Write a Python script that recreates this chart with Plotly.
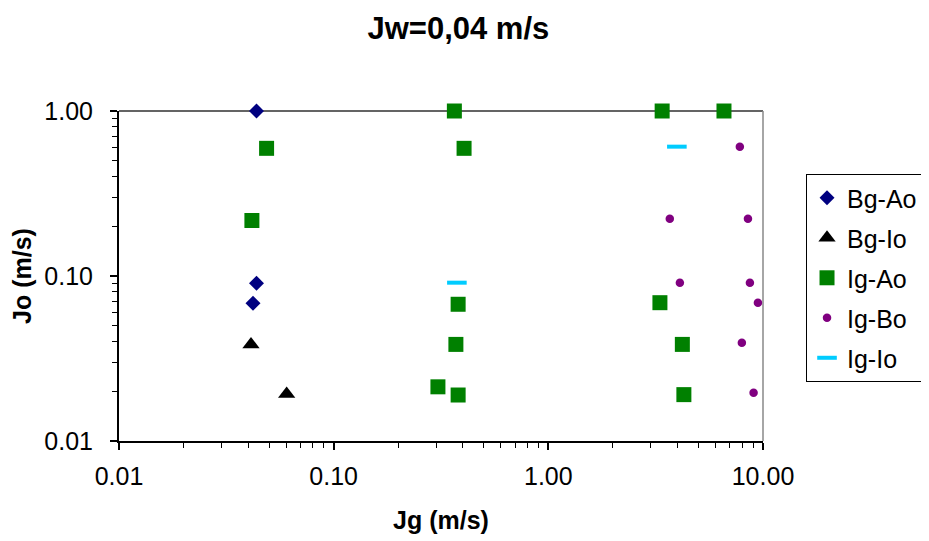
import plotly.graph_objects as go

# ---- data ----
bg_ao_x = [0.0437, 0.0437, 0.0421]
bg_ao_y = [1.0, 0.0905, 0.0684]

bg_io_x = [0.0412, 0.0604]
bg_io_y = [0.0385, 0.0193]

ig_ao_x = [0.0487, 0.0416, 0.365, 0.405, 0.380, 0.371, 0.306, 0.380, 3.39, 6.58, 3.31, 4.21, 4.28]
ig_ao_y = [0.594, 0.217, 1.0, 0.594, 0.0674, 0.0385, 0.0213, 0.0190, 1.0, 1.0, 0.0689, 0.0385, 0.0191]

ig_bo_x = [7.80, 3.68, 8.51, 4.10, 8.69, 9.47, 7.97, 9.04]
ig_bo_y = [0.608, 0.222, 0.222, 0.0911, 0.0911, 0.0689, 0.0394, 0.0196]

ig_io_x = [3.97, 0.375]
ig_io_y = [0.608, 0.0911]

x_tickvals = [0.01, 0.1, 1, 10]
x_ticktext = ["0.01", "0.10", "1.00", "10.00"]
y_tickvals = [0.01, 0.1, 1]
y_ticktext = ["0.01", "0.10", "1.00"]

title_text = "Jw=0,04 m/s"
x_title = "Jg (m/s)"
y_title = "Jo (m/s)"

FONT = "Liberation Sans, Arial, sans-serif"

def minor_vals(decades):
    vals = []
    for d in decades:
        for k in range(2, 10):
            vals.append(k * d)
    return vals

fig = go.Figure()
fig.add_trace(go.Scatter(x=bg_ao_x, y=bg_ao_y, mode="markers", name="Bg-Ao",
                         legendgroup="a", cliponaxis=False,
                         marker=dict(symbol="diamond", size=11.5, color="#000080")))
fig.add_trace(go.Scatter(x=bg_io_x, y=bg_io_y, mode="markers", name="Bg-Io",
                         legendgroup="b", cliponaxis=False,
                         marker=dict(symbol="triangle-up", size=15, color="black")))
fig.add_trace(go.Scatter(x=ig_ao_x, y=ig_ao_y, mode="markers", name="Ig-Ao",
                         legendgroup="c", cliponaxis=False,
                         marker=dict(symbol="square", size=15, color="#008000")))
fig.add_trace(go.Scatter(x=ig_bo_x, y=ig_bo_y, mode="markers", name="Ig-Bo",
                         legendgroup="d", cliponaxis=False,
                         marker=dict(symbol="circle", size=8.5, color="#800080")))
fig.add_trace(go.Scatter(x=ig_io_x, y=ig_io_y, mode="markers", name="Ig-Io",
                         legendgroup="e", cliponaxis=False,
                         marker=dict(symbol="line-ew", size=14, color="#00CCFF",
                                     line=dict(color="#00CCFF", width=4))))

# page has an 8px body margin, so the figure is sized/offset accordingly
fig.update_layout(
    width=921, height=533,
    margin=dict(l=111, r=166, t=103, b=100, autoexpand=False),
    paper_bgcolor="white", plot_bgcolor="white",
    font=dict(family=FONT, color="black", size=25),
    title=dict(text=title_text, x=0.489, xref="container", y=0.962, yref="container",
               xanchor="center", yanchor="middle",
               font=dict(family=FONT, size=31, color="black", weight="bold")),
    showlegend=True,
    legend=dict(x=1.0668, y=0.809, xanchor="left", yanchor="top",
                bordercolor="black", borderwidth=1, bgcolor="white",
                font=dict(family=FONT, size=25, color="black"),
                tracegroupgap=4.5, itemwidth=30),
    xaxis=dict(type="log", range=[-2, 1], tickmode="array", tickvals=x_tickvals,
               ticktext=x_ticktext, showgrid=False, zeroline=False, automargin=False,
               showline=True, linecolor="black", linewidth=2,
               ticks="outside", ticklen=7, tickwidth=1.5, tickcolor="black",
               ticklabelstandoff=5,
               minor=dict(tickmode="array", tickvals=minor_vals([0.01, 0.1, 1]),
                          ticks="outside", ticklen=5, tickwidth=1, tickcolor="black",
                          showgrid=False),
               title=dict(text=x_title, standoff=22,
                          font=dict(family=FONT, size=25, color="black", weight="bold"))),
    yaxis=dict(type="log", range=[-2, 0], tickmode="array", tickvals=y_tickvals,
               ticktext=y_ticktext, showgrid=False, zeroline=False, automargin=False,
               showline=True, linecolor="black", linewidth=2,
               ticks="outside", ticklen=7, tickwidth=1.5, tickcolor="black",
               ticklabelstandoff=12,
               minor=dict(tickmode="array", tickvals=minor_vals([0.01, 0.1]),
                          ticks="outside", ticklen=5, tickwidth=1, tickcolor="black",
                          showgrid=False),
               title=dict(text=y_title, standoff=8,
                          font=dict(family=FONT, size=25, color="black", weight="bold"))),
    shapes=[
        dict(type="line", xref="paper", yref="paper", x0=0, x1=1, y0=1, y1=1,
             line=dict(color="#303030", width=1.5), layer="below"),
        dict(type="line", xref="paper", yref="paper", x0=1, x1=1, y0=0, y1=1,
             line=dict(color="#888888", width=1.5), layer="below"),
    ],
)

fig.write_html("out.html")
